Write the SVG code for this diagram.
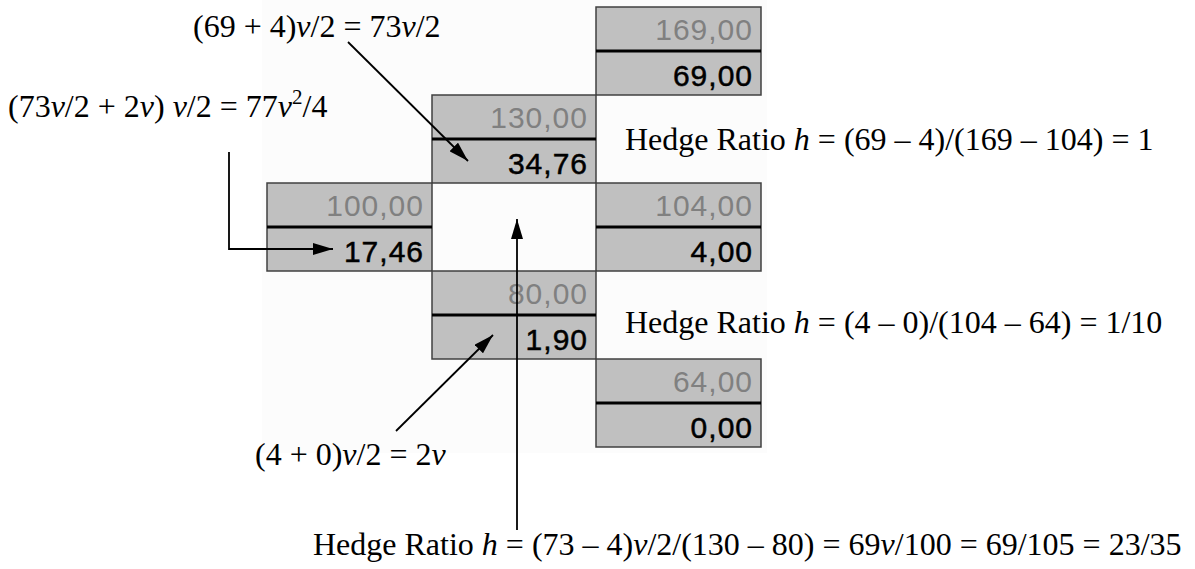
<svg xmlns="http://www.w3.org/2000/svg" width="1195" height="569" viewBox="0 0 1195 569">
<defs>
<style>
.lbl{font-family:"Liberation Serif","Times New Roman",serif;font-size:32px;fill:#000}
.i{font-style:italic}
.cell{fill:#c0c0c0;stroke:#404040;stroke-width:1.5}
.sep{stroke:#000;stroke-width:3}
.top{font-family:"Liberation Sans",Arial,sans-serif;font-size:30px;fill:#808080;text-anchor:end;letter-spacing:1px}
.bot{font-family:"Liberation Sans",Arial,sans-serif;font-size:30px;fill:#000;text-anchor:end;letter-spacing:1px;stroke:#000;stroke-width:0.5}
.conn{fill:none;stroke:#000;stroke-width:1.8}
</style>
<marker id="ah" viewBox="0 0 20 12" refX="20" refY="6" markerWidth="20" markerHeight="12" markerUnits="userSpaceOnUse" orient="auto">
<path d="M0,0 L20,6 L0,12 Z" fill="#000"/>
</marker>
</defs>
<rect x="0" y="0" width="1195" height="569" fill="#fff"/>
<rect x="262" y="0" width="505" height="453" fill="#fcfcfc"/>

<g id="node-169">
<rect class="cell" x="596" y="7" width="165" height="88"/>
<line class="sep" x1="596" y1="51" x2="761" y2="51"/>
<text class="top" x="753" y="40">169,00</text>
<text class="bot" x="753" y="86">69,00</text>
</g>
<g id="node-130">
<rect class="cell" x="432" y="95" width="164" height="88"/>
<line class="sep" x1="432" y1="139" x2="596" y2="139"/>
<text class="top" x="588" y="128">130,00</text>
<text class="bot" x="588" y="174">34,76</text>
</g>
<g id="node-100">
<rect class="cell" x="267" y="183" width="165" height="88"/>
<line class="sep" x1="267" y1="227" x2="432" y2="227"/>
<text class="top" x="424" y="216">100,00</text>
<text class="bot" x="424" y="262">17,46</text>
</g>
<g id="node-104">
<rect class="cell" x="596" y="183" width="165" height="88"/>
<line class="sep" x1="596" y1="227" x2="761" y2="227"/>
<text class="top" x="753" y="216">104,00</text>
<text class="bot" x="753" y="262">4,00</text>
</g>
<g id="node-80">
<rect class="cell" x="432" y="271" width="164" height="88"/>
<line class="sep" x1="432" y1="315" x2="596" y2="315"/>
<text class="top" x="588" y="304">80,00</text>
<text class="bot" x="588" y="350">1,90</text>
</g>
<g id="node-64">
<rect class="cell" x="596" y="359" width="165" height="88"/>
<line class="sep" x1="596" y1="403" x2="761" y2="403"/>
<text class="top" x="753" y="392">64,00</text>
<text class="bot" x="753" y="438">0,00</text>
</g>

<g id="label-top">
<text class="lbl" x="193" y="37">(69 + 4)<tspan class="i">v</tspan>/2 = 73<tspan class="i">v</tspan>/2</text>
</g>
<g id="label-left">
<text class="lbl" x="8" y="117">(73<tspan class="i">v</tspan>/2 + 2<tspan class="i">v</tspan>) <tspan class="i">v</tspan>/2 = 77<tspan class="i">v</tspan><tspan font-size="21" dy="-13">2</tspan><tspan dy="13">/4</tspan></text>
</g>
<g id="label-hedge1">
<text class="lbl" x="625" y="150">Hedge Ratio <tspan class="i">h</tspan> = (69 – 4)/(169 – 104) = 1</text>
</g>
<g id="label-hedge2">
<text class="lbl" x="625" y="333">Hedge Ratio <tspan class="i">h</tspan> = (4 – 0)/(104 – 64) = 1/10</text>
</g>
<g id="label-low">
<text class="lbl" x="255" y="465">(4 + 0)<tspan class="i">v</tspan>/2 = 2<tspan class="i">v</tspan></text>
</g>
<g id="label-bottom">
<text class="lbl" x="313" y="555">Hedge Ratio <tspan class="i">h</tspan> = (73 – 4)<tspan class="i">v</tspan>/2/(130 – 80) = 69<tspan class="i">v</tspan>/100 = 69/105 = 23/35</text>
</g>

<g id="connectors">
<line class="conn" x1="348" y1="42" x2="468" y2="161" marker-end="url(#ah)"/>
<polyline class="conn" points="229,152 229,249 333,249" marker-end="url(#ah)"/>
<line class="conn" x1="517" y1="530" x2="517" y2="219" marker-end="url(#ah)"/>
<line class="conn" x1="396" y1="431" x2="493" y2="335" marker-end="url(#ah)"/>
</g>
</svg>
